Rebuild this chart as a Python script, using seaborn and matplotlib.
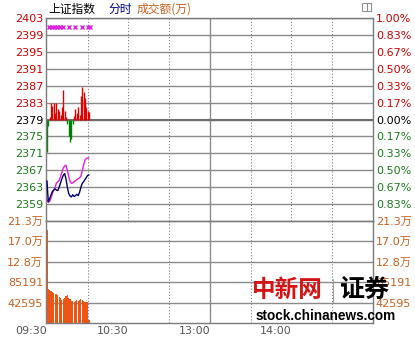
import numpy as np
import pandas as pd
import matplotlib
matplotlib.use("Agg")
import matplotlib.pyplot as plt
from matplotlib.patches import Rectangle
from matplotlib.lines import Line2D
import seaborn as sns

# ---------------- data ----------------
minutes = list(range(32))
index_price = [2364.5, 2359.5, 2360.3, 2361.2, 2362.0, 2362.3, 2362.6, 2362.3,
               2362.2, 2363.0, 2364.0, 2365.0, 2365.8, 2366.2, 2365.0, 2363.0,
               2361.5, 2360.9, 2360.7, 2361.2, 2360.8, 2361.0, 2361.3, 2361.0,
               2361.8, 2363.0, 2363.9, 2364.3, 2364.8, 2365.3, 2365.8, 2365.9]
avg_price = [2360.0, 2359.5, 2359.6, 2360.5, 2361.5, 2362.3, 2363.0, 2364.0,
             2364.3, 2364.6, 2365.5, 2366.5, 2367.5, 2368.0, 2368.2, 2367.0,
             2365.5, 2364.4, 2363.9, 2364.0, 2364.3, 2364.5, 2364.8, 2365.0,
             2365.2, 2365.6, 2366.8, 2368.3, 2369.4, 2369.8, 2369.9, 2369.9]
strength = [-7.8, -1.5, 0.5, 3.8, 3.2, 3.8, 1.5, 3.8, 2.5, 2.0, 1.0, 3.0,
            7.0, 2.0, 0.5, -1.0, -4.0, -5.3, -4.5, -1.0, 0.8, 2.5, 1.5, 3.0,
            1.0, 5.5, 7.6, 6.5, 5.0, 3.0, 2.0, 1.8]
volume = [194000, 70000, 68000, 66000, 64000, 62000, 60000, 61000, 58000,
          54000, 52000, 48000, 50000, 53000, 56000, 58000, 52000, 51000,
          45000, 46000, 44000, 45000, 47000, 45000, 47000, 50000, 47000,
          46000, 44000, 44000, 44000, 6000]
marker_minutes = [1.5, 3.5, 5.5, 7.5, 9.5, 11.5, 16, 21, 26, 30, 32]
marker_level = 2400.8

prev_close = 2379
price_ticks = [2403, 2399, 2395, 2391, 2387, 2383, 2379, 2375, 2371, 2367, 2363, 2359]
pct_labels = ["1.00%", "0.83%", "0.67%", "0.50%", "0.33%", "0.17%", "0.00%",
              "0.17%", "0.33%", "0.50%", "0.67%", "0.83%"]
vol_ticks = [212977, 170382, 127786, 85191, 42595]
vol_labels = ["21.3万", "17.0万", "12.8万", "85191", "42595"]
time_ticks = [0, 60, 120, 180]
time_labels = ["09:30", "10:30", "13:00", "14:00"]
half_hours = [30, 60, 90, 150, 180, 210]
midday = 120

# ---------------- style ----------------
sns.set_style("white")
plt.rcParams["font.family"] = ["DejaVu Sans", "Noto Sans CJK SC"]
plt.rcParams["axes.unicode_minus"] = False
plt.rcParams["lines.scale_dashes"] = False

W, H = 415, 340
fig = plt.figure(figsize=(W / 100, H / 100), dpi=100)
fig.patch.set_facecolor("white")

def ax_rect(l, t, r, b):
    return [l / W, 1 - b / H, (r - l) / W, (b - t) / H]

ax1 = fig.add_axes(ax_rect(46, 18, 373, 221))
ax2 = fig.add_axes(ax_rect(46, 221, 373, 323))

RED = "#D00000"
GREEN = "#1E7A1E"
ORANGE = "#C8601E"
GRID = "#8A8A8A"
XMIN, XMAX = -0.7, 240

for ax in (ax1, ax2):
    ax.set_xlim(XMIN, XMAX)
    ax.set_facecolor("white")
    for s in ax.spines.values():
        s.set_color("#7A7A7A")
        s.set_linewidth(1.0)
    ax.set_xticks(half_hours, minor=True)
    ax.xaxis.grid(True, which="minor", color="#8A8A8A", lw=0.75, ls=(0, (0.9, 1.3)))
    ax.xaxis.grid(False, which="major")
    ax.yaxis.grid(True, which="major", color=GRID, lw=1.0)
    ax.axvline(midday, color=GRID, lw=1.0, zorder=0.5)
    ax.tick_params(which="both", length=0)
    ax.set_axisbelow(True)

# price panel
ax1.set_ylim(2355, 2403)
ax1.set_yticks(price_ticks)
ax1.set_yticklabels([str(t) for t in price_ticks], fontsize=8)
ax1.tick_params(axis="y", pad=2)
ax1.set_xticks([])
ax1.axhline(prev_close, color="#6E6E6E", lw=1.5, zorder=1)

pos = [max(v, 0) for v in strength]
neg = [min(v, 0) for v in strength]
ax1.vlines(minutes, prev_close, [prev_close + v for v in pos], color="#E00000", lw=1.0, zorder=2)
ax1.vlines(minutes, prev_close, [prev_close + v for v in neg], color="#008000", lw=1.0, zorder=2)

df = pd.DataFrame({"minute": minutes, "index": index_price, "avg": avg_price})
sns.lineplot(data=df, x="minute", y="avg", ax=ax1, color="#E020E0", lw=1.0, zorder=3)
sns.lineplot(data=df, x="minute", y="index", ax=ax1, color="#000066", lw=1.0, zorder=4)
ax1.plot(marker_minutes, [marker_level] * len(marker_minutes), ls="none",
         marker="x", ms=3.2, mew=1.0, color="#E020E0", zorder=4)
ax1.set_xlabel("")
ax1.set_ylabel("")
ax1.set_xlim(XMIN, XMAX)

for lab, t in zip(ax1.get_yticklabels(), price_ticks):
    lab.set_color(RED if t > prev_close else ("black" if t == prev_close else GREEN))

ax1r = ax1.twinx()
ax1r.set_ylim(ax1.get_ylim())
ax1r.set_yticks(price_ticks)
ax1r.set_yticklabels(pct_labels, fontsize=8)
ax1r.tick_params(axis="y", length=0, pad=2)
for s in ax1r.spines.values():
    s.set_visible(False)
for lab, t in zip(ax1r.get_yticklabels(), price_ticks):
    lab.set_color(RED if t > prev_close else ("black" if t == prev_close else GREEN))

# volume panel
ax2.set_ylim(0, 212977)
ax2.set_yticks(vol_ticks)
ax2.set_yticklabels(vol_labels, fontsize=8, color=ORANGE)
ax2.tick_params(axis="y", pad=2)
ax2.bar(minutes, volume, width=0.85, color="#EE5514", lw=0, zorder=2)
ax2.set_xticks(time_ticks)
ax2.set_xticklabels(time_labels, fontsize=8, color="#555555", ha="right")
ax2.tick_params(axis="x", pad=2)
ax2.set_xlim(XMIN, XMAX)

ax2r = ax2.twinx()
ax2r.set_ylim(ax2.get_ylim())
ax2r.set_yticks(vol_ticks)
ax2r.set_yticklabels(vol_labels, fontsize=8, color=ORANGE)
ax2r.tick_params(axis="y", length=0, pad=2)
for s in ax2r.spines.values():
    s.set_visible(False)

# header
cjk = ["Noto Sans CJK SC", "DejaVu Sans"]
fig.text(48 / W, 1 - 9 / H, "上证指数", family=cjk, fontsize=8.5, color="black", va="center")
fig.text(108 / W, 1 - 9 / H, "分时", family=cjk, fontsize=8.5, color="#000080", va="center")
fig.text(137 / W, 1 - 9 / H, "成交额(万)", family=cjk, fontsize=8.5, color="#C8601E", va="center")
fig.patches.append(Rectangle((362 / W, 1 - 11 / H), 9 / W, 8 / H, transform=fig.transFigure,
                             fill=False, ec="#909090", lw=0.8))
fig.lines.append(Line2D([367 / W, 367 / W], [1 - 11 / H, 1 - 3 / H], transform=fig.transFigure,
                        color="#909090", lw=0.8))

# watermark
fig.text(252 / W, 1 - 290 / H, "中新网", family=cjk, fontsize=17, fontweight="bold",
         color="#D41414", va="center", zorder=10)
fig.lines.append(Line2D([333 / W, 333 / W], [1 - 302 / H, 1 - 279 / H], transform=fig.transFigure,
                        color="#A0A0A0", lw=0.8, zorder=10))
fig.text(340 / W, 1 - 290 / H, "证券", family=cjk, fontsize=18, fontweight="bold",
         color="black", va="center", zorder=10)
fig.text(256 / W, 1 - 316 / H, "stock.chinanews.com", family=["Liberation Sans", "DejaVu Sans"],
         fontsize=9.8, fontweight="bold", color="black", va="center", zorder=10)

fig.savefig("out.png", dpi=100, facecolor="white")
